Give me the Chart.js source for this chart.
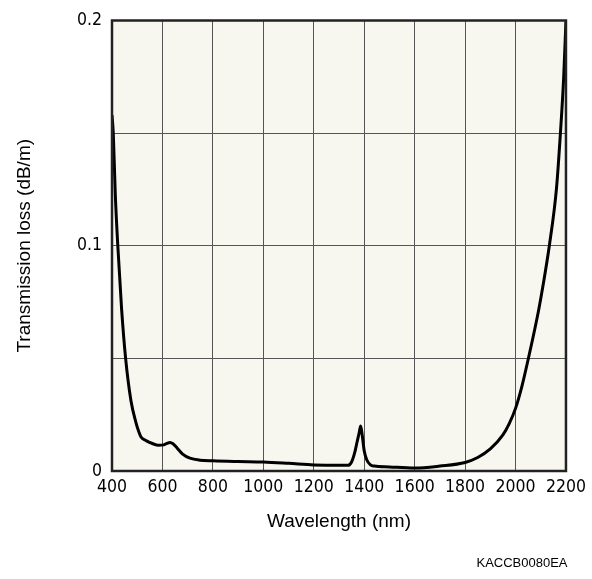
<!DOCTYPE html>
<html>
<head>
<meta charset="utf-8">
<script src="https://cdn.jsdelivr.net/npm/chart.js@4/dist/chart.umd.min.js"></script>
<style>
  html, body { margin: 0; padding: 0; background: #fff; }
  #wrap { width: 592px; height: 579px; }
</style>
</head>
<body>
<div id="wrap"><canvas id="lossChart" width="592" height="579"></canvas></div>
<script>
// ===== Data =====
const wavelengths = [400, 405, 413, 423, 438, 454, 475, 495, 507, 515, 535, 560, 584, 605, 618, 630, 642, 658, 680, 709, 749, 800, 900, 1000, 1100, 1200, 1300, 1335, 1350, 1362, 1372, 1380, 1386, 1392, 1400, 1410, 1425, 1440, 1500, 1600, 1700, 1800, 1850, 1900, 1950, 1975, 2000, 2025, 2051, 2090, 2110, 2134, 2162, 2178, 2191, 2200];
const lossValues  = [0.158, 0.15, 0.123, 0.1, 0.072, 0.05, 0.0313, 0.0215, 0.0172, 0.0151, 0.0135, 0.0122, 0.0114, 0.0116, 0.0123, 0.0127, 0.0121, 0.0102, 0.0075, 0.0057, 0.0048, 0.0045, 0.0042, 0.004, 0.0034, 0.0027, 0.0025, 0.0025, 0.004, 0.008, 0.013, 0.017, 0.020, 0.016, 0.009, 0.005, 0.0027, 0.0022, 0.0018, 0.0013, 0.0022, 0.0038, 0.006, 0.0098, 0.016, 0.021, 0.0278, 0.0375, 0.05, 0.0705, 0.083, 0.1, 0.125, 0.15, 0.175, 0.2];
const xTicks = [400, 600, 800, 1000, 1200, 1400, 1600, 1800, 2000, 2200];
const yTickLabels = [0, 0.1, 0.2];

const points = wavelengths.map((w, i) => ({x: w, y: lossValues[i]}));

// plot background, frame and drawing code
const framePlugin = {
  id: 'frame',
  beforeDraw(chart){
    const {ctx, chartArea: a} = chart;
    ctx.save();
    ctx.fillStyle = '#f7f6ef';
    ctx.fillRect(a.left, a.top, a.right - a.left, a.bottom - a.top);
    ctx.restore();
  },
  afterDatasetsDraw(chart){
    const {ctx, chartArea: a} = chart;
    ctx.save();
    ctx.strokeStyle = '#222';
    ctx.lineWidth = 2.5;
    ctx.strokeRect(a.left, a.top, a.right - a.left, a.bottom - a.top);
    ctx.restore();
  },
  afterDraw(chart){
    const ctx = chart.ctx;
    ctx.save();
    ctx.fillStyle = '#000';
    ctx.font = '13px "Liberation Sans", Arial, sans-serif';
    ctx.textAlign = 'center';
    ctx.textBaseline = 'middle';
    ctx.fillText('KACCB0080EA', 522, 563);
    ctx.restore();
  }
};

const tickFont = {family: '"DejaVu Sans Condensed", "DejaVu Sans", sans-serif', size: 17.5};
const titleFont = {family: '"Liberation Sans", Arial, sans-serif', size: 19};

new Chart(document.getElementById('lossChart').getContext('2d'), {
  type: 'line',
  data: {
    datasets: [{
      data: points,
      borderColor: '#000',
      borderWidth: 3,
      pointRadius: 0,
      fill: false,
      cubicInterpolationMode: 'monotone'
    }]
  },
  options: {
    responsive: false,
    animation: false,
    layout: {padding: {top: 17, right: 26, left: 0, bottom: 0}},
    plugins: {legend: {display: false}, tooltip: {enabled: false}},
    scales: {
      x: {
        type: 'linear',
        min: 400, max: 2200,
        afterBuildTicks: (s) => { s.ticks = xTicks.map(v => ({value: v})); },
        afterFit: (s) => { s.height = 108; },
        grid: {color: '#555', lineWidth: 1, drawTicks: false},
        border: {display: false},
        ticks: {color: '#000', font: tickFont, padding: 6, maxRotation: 0, autoSkip: false,
          callback: (v) => String(v)},
        title: {display: true, text: 'Wavelength (nm)', color: '#000', font: titleFont, padding: {top: 46, bottom: 46}}
      },
      y: {
        min: 0, max: 0.2,
        ticks: {
          stepSize: 0.05,
          color: '#000', font: tickFont, padding: 10,
          callback: (v) => {
            const hit = yTickLabels.find(t => Math.abs(t - v) < 1e-9);
            return hit === undefined ? '' : String(hit);
          }
        },
        afterFit: (s) => { s.width = 112; },
        grid: {color: '#555', lineWidth: 1, drawTicks: false},
        border: {display: false},
        title: {display: true, text: 'Transmission loss (dB/m)', color: '#000', font: titleFont, padding: {top: 13, bottom: 13}}
      }
    }
  },
  plugins: [framePlugin]
});
</script>
</body>
</html>
